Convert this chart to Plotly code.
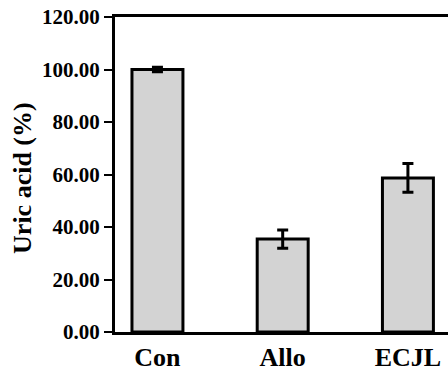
import plotly.graph_objects as go

categories = ["Con", "Allo", "ECJL"]
values = [100.0, 35.4, 58.7]
errors = [0.9, 3.5, 5.5]
y_ticks = [0, 20, 40, 60, 80, 100, 120]

W, H = 448, 372
L, R, T, B = 115, 0, 17, 34
pw = W - L - R
ph = H - T - B

xs = list(range(len(categories)))

fig = go.Figure()
fig.add_trace(go.Bar(
    x=xs, y=values, width=0.407,
    marker=dict(color="#d3d3d3", line=dict(color="black", width=3)),
    error_y=dict(type="data", array=errors, visible=True, color="black",
                 thickness=3, width=5.5),
))

font = dict(family="Liberation Serif", color="black", weight="bold")

fig.update_layout(
    width=W, height=H,
    margin=dict(l=L, r=R, t=T, b=B),
    plot_bgcolor="white", paper_bgcolor="white",
    showlegend=False,
    xaxis=dict(
        range=[-0.339, 2.32], tickmode="array", tickvals=xs, ticktext=categories,
        showline=True, linecolor="black", linewidth=3, mirror=True,
        ticks="", ticklen=0, showgrid=False, zeroline=False,
        tickfont=dict(size=26, **font),
    ),
    yaxis=dict(
        range=[0, 120], tickmode="array", tickvals=y_ticks,
        tickformat=".2f",
        showline=True, linecolor="black", linewidth=3,
        ticks="outside", ticklen=8, tickwidth=2, tickcolor="black",
        showgrid=False, zeroline=False, ticklabeloverflow="allow",
        tickfont=dict(size=21, **font),
    ),
    annotations=[dict(
        text="Uric acid (%)", textangle=-90, showarrow=False,
        xref="paper", yref="paper",
        x=(23 - L) / pw, y=(338 - 181) / ph,
        xanchor="center", yanchor="middle",
        font=dict(size=26, **font),
    )],
)

fig.write_html(
    "out.html",
    config={"displayModeBar": False},
    post_script="document.body.style.margin='0';document.body.style.overflow='hidden';",
)
